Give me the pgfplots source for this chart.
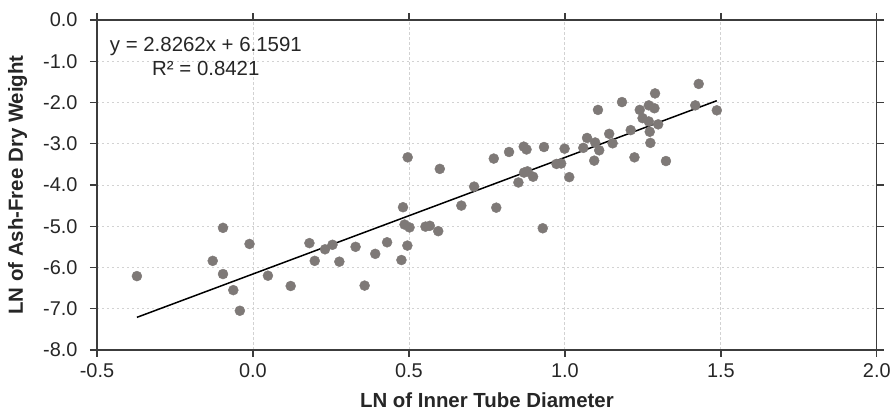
\documentclass[border=0pt]{standalone}
\usepackage{fontspec}
\setmainfont{Liberation Sans}
\usepackage{pgfplots}
\pgfplotsset{compat=1.18}
\definecolor{dotgray}{RGB}{126,121,119}
\definecolor{framegray}{RGB}{60,60,60}
\definecolor{gridgray}{RGB}{210,210,210}

\begin{document}
\begin{tikzpicture}
\begin{axis}[
    scale only axis,
    width=780bp, height=330bp,
    xmin=-0.5, xmax=2.0, ymin=-8, ymax=0,
    xtick={-0.5,0,0.5,1,1.5,2},
    ytick={-8,-7,...,0},
    tick align=outside,
    major tick length=7bp,
    axis line style={framegray, line width=1.3bp},
    every tick/.style={framegray, line width=1.3bp},
    xtick pos=both, ytick pos=both,
    xticklabel pos=lower, yticklabel pos=left,
    grid=major,
    major grid style={gridgray, line width=0.8bp, dash pattern=on 2.5bp off 2.5bp},
    /pgf/number format/.cd, fixed, fixed zerofill, precision=1, assume math mode=true,
    /pgfplots/.cd,
    tick label style={font=\fontsize{20}{24}\selectfont, text=black!85},
    yticklabel style={xshift=-9bp},
    xticklabel style={yshift=-3bp},
    xlabel={\textbf{LN of Inner Tube Diameter}},
    ylabel={\textbf{LN of Ash-Free Dry Weight}},
    label style={font=\fontsize{20.5}{24}\selectfont, text=black!85},
    xlabel style={at={(axis description cs:0.5,-0.1758)}, anchor=base},
    ylabel style={at={(axis description cs:-0.0949,0.5)}, anchor=base, rotate=0},
]
\addplot[only marks, mark=*, mark size=5bp, mark options={draw=dotgray, fill=dotgray}] coordinates {
(-0.372,-6.21) (-0.129,-5.84) (-0.096,-5.04) (-0.096,-6.16) (-0.063,-6.55)
(-0.042,-7.05) (-0.011,-5.43) (0.048,-6.20) (0.121,-6.45) (0.181,-5.41)
(0.198,-5.84) (0.231,-5.56) (0.255,-5.45) (0.277,-5.86) (0.329,-5.50)
(0.358,-6.44) (0.392,-5.67) (0.430,-5.39)
(0.476,-5.82) (0.481,-4.54) (0.486,-4.96) (0.495,-5.47) (0.496,-3.33)
(0.502,-5.03) (0.553,-5.01) (0.567,-4.99) (0.594,-5.12) (0.599,-3.61)
(0.668,-4.50) (0.709,-4.04) (0.772,-3.36) (0.780,-4.55) (0.821,-3.20)
(0.851,-3.94) (0.868,-3.07) (0.869,-3.70) (0.877,-3.14) (0.880,-3.67)
(0.898,-3.80) (0.929,-5.05) (0.933,-3.08) (0.973,-3.49) (0.988,-3.48)
(0.999,-3.12) (1.014,-3.81) (1.059,-3.10) (1.071,-2.86) (1.094,-3.41)
(1.097,-2.97) (1.106,-2.18) (1.110,-3.16) (1.142,-2.76) (1.153,-2.99)
(1.183,-1.99) (1.211,-2.67) (1.223,-3.33) (1.240,-2.18) (1.249,-2.38)
(1.269,-2.07) (1.269,-2.46) (1.272,-2.71) (1.274,-2.98) (1.287,-2.14)
(1.289,-1.78) (1.299,-2.53) (1.324,-3.42) (1.418,-2.07) (1.429,-1.55)
(1.487,-2.19)
};
% linear trend line
\addplot[black, line width=1.5bp] coordinates {(-0.372,-7.210) (1.487,-1.957)};
\node[align=center, font=\fontsize{20.5}{25}\selectfont, text=black!85] at (axis cs:-0.151,-0.884)
    {y = 2.8262x + 6.1591\\R² = 0.8421};
\end{axis}
\path[use as bounding box] (-97bp,-61bp) rectangle (797bp,350bp);
\end{tikzpicture}
\end{document}
